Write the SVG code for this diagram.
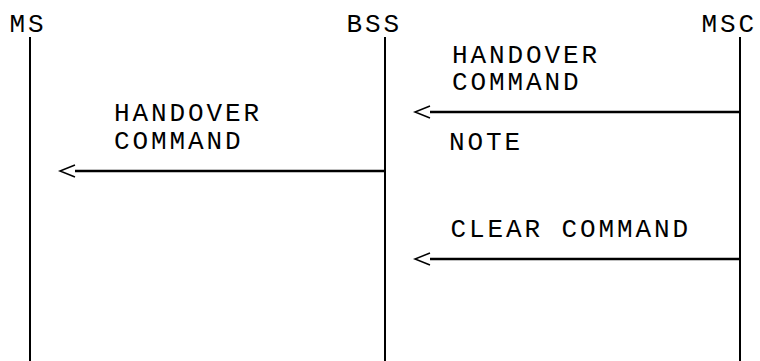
<svg xmlns="http://www.w3.org/2000/svg" width="760" height="361" viewBox="0 0 760 361">
<style>
text{font-family:"Liberation Mono","Courier New",monospace;font-size:26px;letter-spacing:2.9px;fill:#000}
.life{stroke:#000;stroke-width:2;fill:none}
.msg{stroke:#000;stroke-width:2.5;fill:none}
.head{stroke:#000;stroke-width:1.5;fill:none}
</style>
<rect width="760" height="361" fill="#fff"/>
<g id="MS"><text x="9.5" y="32">MS</text><line class="life" x1="30" y1="37" x2="30" y2="361"/></g>
<g id="BSS"><text x="346.5" y="32">BSS</text><line class="life" x1="385" y1="37" x2="385" y2="361"/></g>
<g id="MSC"><text x="701.5" y="32">MSC</text><line class="life" x1="740" y1="37" x2="740" y2="361"/></g>
<g id="connectors">
<g id="m1"><line class="msg" x1="430" y1="112" x2="740" y2="112"/><polyline class="head" points="430,106 415,112 430,118"/>
<text x="452" y="62.5">HANDOVER</text><text x="452" y="90">COMMAND</text><text x="449" y="150">NOTE</text></g>
<g id="m2"><line class="msg" x1="75" y1="171" x2="385" y2="171"/><polyline class="head" points="75,165 60,171 75,177"/>
<text x="114" y="121">HANDOVER</text><text x="114" y="149">COMMAND</text></g>
<g id="m3"><line class="msg" x1="430" y1="259" x2="740" y2="259"/><polyline class="head" points="430,253 415,259 430,265"/>
<text x="450.5" y="237">CLEAR COMMAND</text></g>
</g>
</svg>
